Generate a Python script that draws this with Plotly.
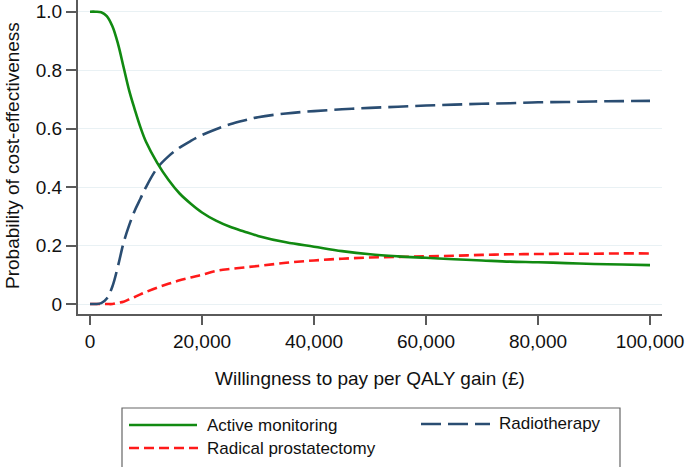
import plotly.graph_objects as go

# ---- data ----
wtp = [0, 1000, 2000, 3000, 4000, 5000, 6000, 7000, 8000, 9000, 10000,
       12000, 14000, 16000, 18000, 20000, 22500, 25000, 27500, 30000,
       35000, 40000, 45000, 50000, 55000, 60000, 65000, 70000, 75000,
       80000, 85000, 90000, 95000, 100000]

active_monitoring = [1.0, 1.0, 0.998, 0.985, 0.95, 0.89, 0.81, 0.73, 0.665, 0.605, 0.555,
                     0.483, 0.425, 0.378, 0.343, 0.313, 0.285, 0.264, 0.248, 0.233,
                     0.211, 0.196, 0.181, 0.170, 0.163, 0.158, 0.153, 0.149, 0.145,
                     0.143, 0.140, 0.137, 0.135, 0.133]

radiotherapy = [0.0, 0.0, 0.003, 0.019, 0.06, 0.13, 0.21, 0.27, 0.32, 0.36, 0.40,
                0.465, 0.505, 0.535, 0.558, 0.578, 0.598, 0.615, 0.628, 0.639,
                0.652, 0.660, 0.666, 0.671, 0.675, 0.679, 0.682, 0.685, 0.687,
                0.690, 0.691, 0.693, 0.694, 0.695]

radical_prostatectomy = [0.0, 0.0, 0.0, 0.0, 0.0, 0.004, 0.008, 0.016, 0.024, 0.033, 0.041,
                         0.056, 0.069, 0.081, 0.091, 0.100, 0.113, 0.120, 0.125, 0.130,
                         0.141, 0.149, 0.155, 0.159, 0.161, 0.163, 0.165, 0.168, 0.170,
                         0.171, 0.172, 0.172, 0.173, 0.173]

x_tickvals = [0, 20000, 40000, 60000, 80000, 100000]
x_ticktext = ["0", "20,000", "40,000", "60,000", "80,000", "100,000"]
y_tickvals = [0, 0.2, 0.4, 0.6, 0.8, 1.0]
y_ticktext = ["0", "0.2", "0.4", "0.6", "0.8", "1.0"]

series_names = ["Active monitoring", "Radiotherapy", "Radical prostatectomy"]

# ---- styling ----
GREEN = "#118a11"
NAVY = "#2a4d72"
RED = "#ff1a1a"
AXIS = "#5a5a5a"
GRID = "#e9f1f4"
FONT = "Liberation Sans, Arial, Helvetica, sans-serif"

W, H = 685, 467
L, R, T, B = 78, 662, 0, 314  # plot area in pixels


def xp(px):
    return (px - L) / (R - L)


def yp(py):
    return (B - py) / (B - T)


fig = go.Figure()
fig.add_trace(go.Scatter(x=wtp, y=radical_prostatectomy, mode="lines",
                         name=series_names[2], line=dict(color=RED, width=2.6, dash="10px,5px"),
                         line_shape="spline", showlegend=False))
fig.add_trace(go.Scatter(x=wtp, y=radiotherapy, mode="lines",
                         name=series_names[1], line=dict(color=NAVY, width=2.6, dash="20px,7px"),
                         line_shape="spline", showlegend=False))
fig.add_trace(go.Scatter(x=wtp, y=active_monitoring, mode="lines",
                         name=series_names[0], line=dict(color=GREEN, width=2.6),
                         line_shape="spline", showlegend=False))

fig.update_layout(
    width=W, height=H,
    margin=dict(l=L, r=W - R, t=T, b=H - B),
    paper_bgcolor="white", plot_bgcolor="white",
    font=dict(family=FONT, size=19, color="#111"),
    showlegend=False,
)

fig.update_xaxes(
    range=[-2143, 102143], tickvals=x_tickvals, ticktext=x_ticktext,
    showgrid=False, zeroline=False, showline=True, linecolor=AXIS, linewidth=2,
    ticks="outside", ticklen=9, tickwidth=1.5, tickcolor=AXIS,
    tickfont=dict(size=19, family=FONT, color="#111"),
)
fig.update_yaxes(
    range=[-0.0342, 1.04], tickvals=y_tickvals, ticktext=y_ticktext,
    showgrid=True, gridcolor=GRID, gridwidth=1.2, zeroline=False,
    showline=True, linecolor=AXIS, linewidth=2,
    ticks="outside", ticklen=10, tickwidth=1.5, tickcolor=AXIS,
    tickfont=dict(size=19, family=FONT, color="#111"),
)

annotations = [
    dict(text="Willingness to pay per QALY gain (£)", x=0.5, y=yp(378), xref="paper", yref="paper",
         showarrow=False, xanchor="center", yanchor="middle", font=dict(size=19, family=FONT, color="#111")),
    dict(text="Probability of cost-effectiveness", x=xp(12), y=yp(156), xref="paper", yref="paper",
         showarrow=False, xanchor="center", yanchor="middle", textangle=-90,
         font=dict(size=19, family=FONT, color="#111")),
    dict(text=series_names[0], x=xp(205), y=yp(425), xref="paper", yref="paper",
         showarrow=False, xanchor="left", yanchor="middle", font=dict(size=17, family=FONT, color="#111")),
    dict(text=series_names[2], x=xp(205), y=yp(448), xref="paper", yref="paper",
         showarrow=False, xanchor="left", yanchor="middle", font=dict(size=17, family=FONT, color="#111")),
    dict(text=series_names[1], x=xp(497), y=yp(423), xref="paper", yref="paper",
         showarrow=False, xanchor="left", yanchor="middle", font=dict(size=17, family=FONT, color="#111")),
]

shapes = [
    dict(type="rect", xref="paper", yref="paper", x0=xp(122), x1=xp(620), y0=yp(408), y1=yp(472),
         line=dict(color="#666", width=1.2), fillcolor="rgba(0,0,0,0)"),
    dict(type="line", xref="paper", yref="paper", x0=xp(129), x1=xp(197), y0=yp(425), y1=yp(425),
         line=dict(color=GREEN, width=2.6)),
    dict(type="line", xref="paper", yref="paper", x0=xp(129), x1=xp(198), y0=yp(448), y1=yp(448),
         line=dict(color=RED, width=2.6, dash="10px,5px")),
    dict(type="line", xref="paper", yref="paper", x0=xp(421), x1=xp(490), y0=yp(424), y1=yp(424),
         line=dict(color=NAVY, width=2.6, dash="20px,7px")),
]

fig.update_layout(annotations=annotations, shapes=shapes)

fig.write_html(
    "out.html",
    config={"displayModeBar": False},
    post_script="document.body.style.margin='0';document.body.style.overflow='hidden';",
)
